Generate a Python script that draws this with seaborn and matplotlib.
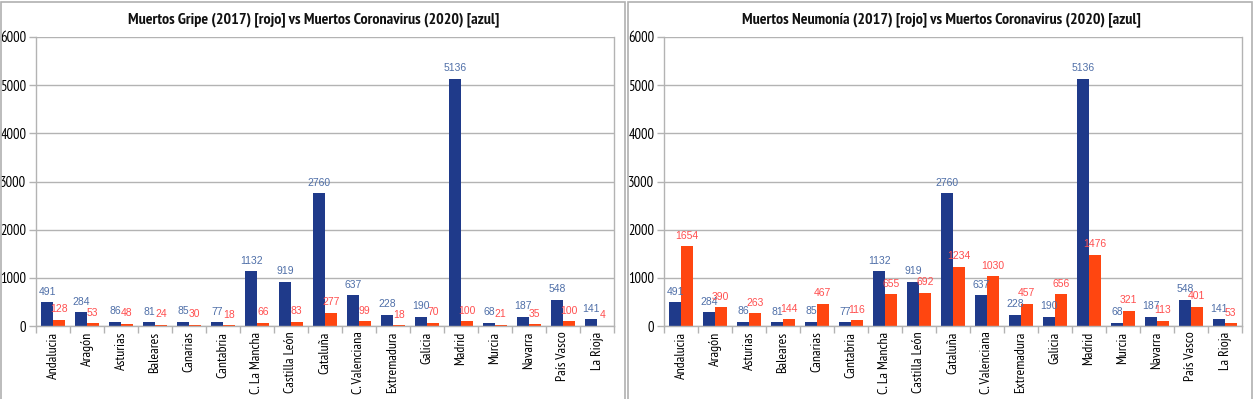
import numpy as np
import pandas as pd
import matplotlib
matplotlib.use("Agg")
import matplotlib.pyplot as plt
import seaborn as sns
from matplotlib.patches import Rectangle

regiones = ["Andalucia", "Aragón", "Asturias", "Baleares", "Canarias", "Cantabria",
            "C. La Mancha", "Castilla León", "Cataluña", "C. Valenciana", "Extremadura",
            "Galicia", "Madrid", "Murcia", "Navarra", "País Vasco", "La Rioja"]
coronavirus_2020 = [491, 284, 86, 81, 85, 77, 1132, 919, 2760, 637, 228, 190, 5136, 68, 187, 548, 141]
gripe_2017 = [128, 53, 48, 24, 30, 18, 66, 83, 277, 99, 18, 70, 100, 21, 35, 100, 4]
neumonia_2017 = [1654, 390, 263, 144, 467, 116, 655, 692, 1234, 1030, 457, 656, 1476, 321, 113, 401, 53]
y_ticks = [0, 1000, 2000, 3000, 4000, 5000, 6000]

titles = ["Muertos Gripe (2017) [rojo] vs Muertos Coronavirus (2020) [azul]",
          "Muertos Neumonía (2017) [rojo] vs Muertos Coronavirus (2020) [azul]"]

BLUE = "#1F3A8A"
RED = "#FF4610"
BLUE_TXT = "#4F6FA8"
RED_TXT = "#FF4F4F"
NARROW = ["PT Sans Narrow", "DejaVu Sans"]

sns.set_theme(style="white")
plt.rcParams['font.family'] = ['DejaVu Sans']

fig = plt.figure(figsize=(12.54, 3.99), dpi=100)
W, H = 1254, 399

# panel borders (open at the bottom edge of the image)
for x0, x1 in [(1, 625), (628, 1252)]:
    fig.patches.append(Rectangle((x0 / W, -10 / H), (x1 - x0) / W, (H + 8) / H,
                                 transform=fig.transFigure, fill=False,
                                 edgecolor="#B0B0B0", linewidth=1.2))

positions = [(36, 614), (664, 1242)]
series_red = [gripe_2017, neumonia_2017]
panel_centers = [314, 941]

for i in range(2):
    xl, xr = positions[i]
    ax = fig.add_axes([xl / W, 1 - 326 / H, (xr - xl) / W, (326 - 37) / H])
    df = pd.DataFrame({
        "region": regiones * 2,
        "valor": coronavirus_2020 + series_red[i],
        "serie": ["Coronavirus 2020"] * len(regiones) + ["Otra 2017"] * len(regiones),
    })
    sns.barplot(data=df, x="region", y="valor", hue="serie", order=regiones,
                palette=[BLUE, RED], width=0.68, ax=ax, legend=False,
                saturation=1, errorbar=None, linewidth=0)
    for cont, col in zip(ax.containers, [BLUE_TXT, RED_TXT]):
        ax.bar_label(cont, labels=[f"{int(v)}" for v in cont.datavalues],
                     color=col, fontsize=7.5, padding=4,
                     family="Liberation Sans")
    ax.set_ylim(0, 6000)
    ax.set_xlim(-0.5, len(regiones) - 0.5)
    ax.set_yticks(y_ticks)
    ax.set_yticklabels([str(t) for t in y_ticks], fontsize=10.5, family=NARROW)
    ax.yaxis.grid(True, color="#B3B3B3", linewidth=1)
    ax.set_axisbelow(True)
    ax.set_xlabel("")
    ax.set_ylabel("")
    ax.set_xticks(range(len(regiones)))
    ax.set_xticklabels(regiones, rotation=90, fontsize=10, family=NARROW)
    ax.set_xticks(np.arange(-0.5, len(regiones)), minor=True)
    ax.tick_params(axis="x", which="major", length=0, pad=4, colors="black")
    ax.tick_params(axis="x", which="minor", length=5, color="#B3B3B3", width=1, bottom=True)
    ax.tick_params(axis="y", length=5, color="#B3B3B3", width=1, left=True, pad=2,
                   labelcolor="black")
    for s in ["left", "bottom", "right"]:
        ax.spines[s].set_color("#B3B3B3")
        ax.spines[s].set_linewidth(1)
    ax.spines["top"].set_visible(False)
    fig.text(panel_centers[i] / W, 1 - 20 / H, titles[i], ha="center", va="center",
             fontsize=11.5, fontweight="bold", family=NARROW, color="#111111")

fig.savefig("out.png", dpi=100)
